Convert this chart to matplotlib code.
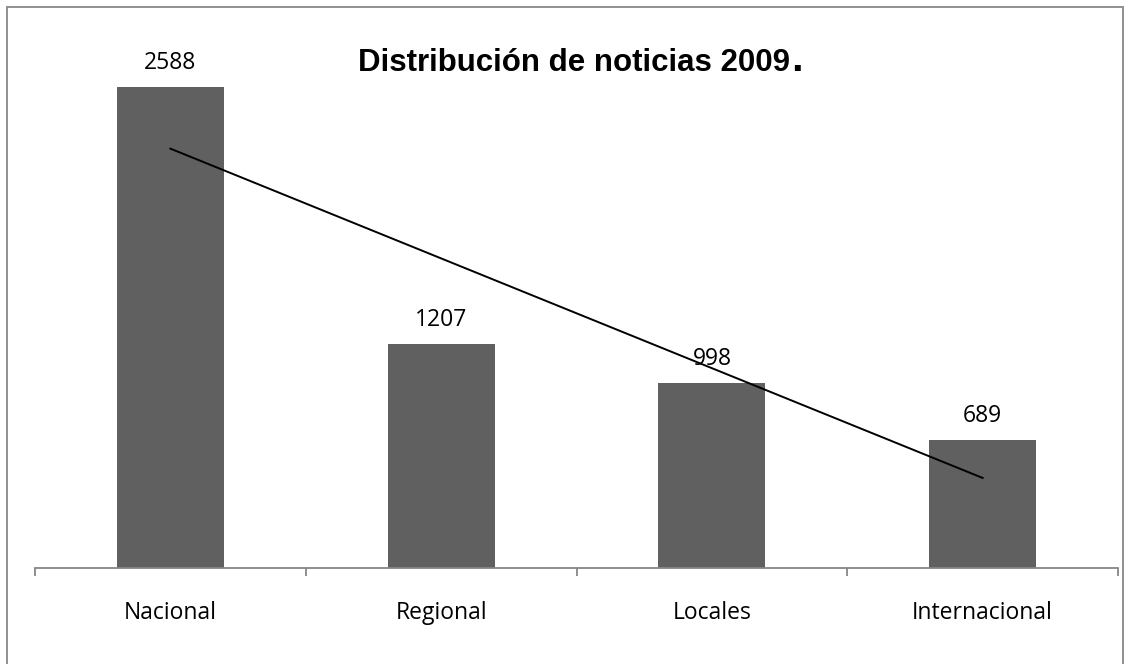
import matplotlib.pyplot as plt
import matplotlib.patches as mpatches
import numpy as np

categories = ["Nacional", "Regional", "Locales", "Internacional"]
values = [2588, 1207, 998, 689]
title = "Distribución de noticias 2009"

W, H = 1131, 664
fig = plt.figure(figsize=(W / 100, H / 100), dpi=100)

# axes box in pixels: left 35, right 1118, bottom 568, top 29
ax = fig.add_axes([35 / W, (H - 568) / H, (1118 - 35) / W, (568 - 29) / H])
x = np.arange(len(categories))
ax.bar(x, values, width=0.395, color="#606060", zorder=2)
ax.set_xlim(-0.5, len(categories) - 0.5)
ax.set_ylim(0, 2900)

# linear trend line
slope, intercept = np.polyfit(x, values, 1)
ax.plot(x[[0, -1]], slope * x[[0, -1]] + intercept, color="black", lw=1.4, zorder=3)

for xi, v in zip(x, values):
    ax.annotate(str(v), (xi, v), xytext=(0, 17), textcoords="offset points",
                ha="center", va="center", fontsize=16.5, family="Open Sans")

for s in ["top", "right", "left"]:
    ax.spines[s].set_visible(False)
ax.spines["bottom"].set_color("#868686")
ax.spines["bottom"].set_linewidth(1.3)
ax.set_yticks([])
ax.set_xticks(np.arange(len(categories) + 1) - 0.5)
ax.set_xticklabels([])
ax.tick_params(axis="x", direction="out", length=6, width=1.3, color="#868686")
for xi, c in zip(x, categories):
    ax.text(xi, -240, c, ha="center", va="center", fontsize=16.5, family="Open Sans")

t = fig.text(358 / W, 1 - 71 / H, title, ha="left", va="baseline", fontsize=22.5,
             fontweight="bold", family="Liberation Sans")
r = fig.canvas.get_renderer()
bb = t.get_window_extent(r)
fig.text((bb.x1 + 1) / W, 1 - 71 / H, ".", ha="left", va="baseline", fontsize=30,
         fontweight="bold", family="Liberation Sans")

fig.patches.append(mpatches.Rectangle((7 / W, -0.1), (1123 - 7) / W, 1.1 - 7 / H,
                                      transform=fig.transFigure, fill=False,
                                      edgecolor="#888888", lw=1.3))

fig.savefig("out.png", dpi=100)
